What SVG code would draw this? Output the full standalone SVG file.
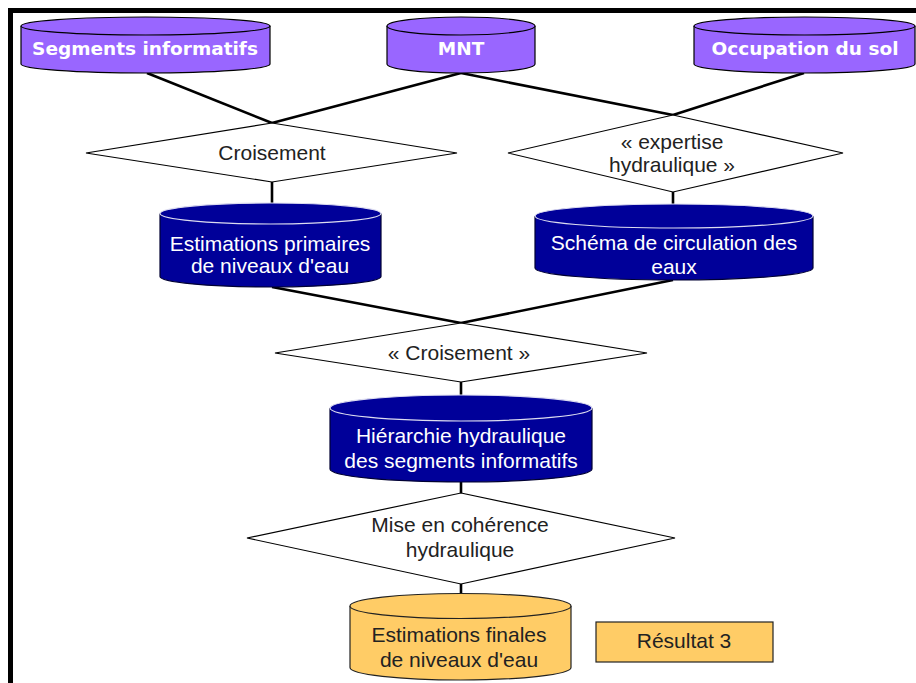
<svg xmlns="http://www.w3.org/2000/svg" width="916" height="683" viewBox="0 0 916 683">
<style>
.bg{fill:#ffffff}
.frame{fill:none;stroke:#000;stroke-width:5}
.conn{fill:none;stroke:#000;stroke-width:2.6;stroke-linecap:butt}
.dia{fill:#fff;stroke:#000;stroke-width:1.2}
.cylP{fill:#9966ff;stroke:#000;stroke-width:1.2}
.cylPtop{fill:#9966ff;stroke:#000;stroke-width:1.2}
.cylB{fill:#000099;stroke:#000033;stroke-width:1.2}
.cylBtop{fill:#000099;stroke:#dcdcf0;stroke-width:1.2}
.cylO{fill:#ffcc66;stroke:#222;stroke-width:1.2}
.cylOtop{fill:#ffcc66;stroke:#222;stroke-width:1.2}
.tb{font-family:"DejaVu Sans",Verdana,sans-serif;font-weight:bold;font-size:18.5px;fill:#fff;text-anchor:middle}
.tw{font-family:"Liberation Sans",Arial,sans-serif;font-size:21px;fill:#fff;text-anchor:middle}
.tk{font-family:"Liberation Sans",Arial,sans-serif;font-size:21px;fill:#222;text-anchor:middle}
</style>
<rect class="bg" x="0" y="0" width="916" height="683"/>
<path class="frame" d="M10.5,683 V10.5 H916"/>

<g id="connectors">
  <line class="conn" x1="147" y1="73" x2="272" y2="123"/>
  <line class="conn" x1="461" y1="73" x2="272" y2="123"/>
  <line class="conn" x1="461" y1="73" x2="673" y2="115"/>
  <line class="conn" x1="804" y1="73" x2="673" y2="115"/>
  <line class="conn" x1="272" y1="182" x2="272" y2="203"/>
  <line class="conn" x1="673" y1="192" x2="673" y2="204"/>
  <line class="conn" x1="272" y1="287" x2="461" y2="323"/>
  <line class="conn" x1="673" y1="280" x2="461" y2="323"/>
  <line class="conn" x1="461" y1="382" x2="461" y2="395"/>
  <line class="conn" x1="461" y1="482" x2="461" y2="493"/>
  <line class="conn" x1="461" y1="584" x2="461" y2="593"/>
</g>

<g id="segments">
  <path class="cylP" d="M21,26 V64 A124.5,9 0 0 0 270,64 V26"/>
  <ellipse class="cylPtop" cx="145.5" cy="26" rx="124.5" ry="9"/>
  <text class="tb" x="145" y="55">Segments informatifs</text>
</g>
<g id="mnt">
  <path class="cylP" d="M387,26 V64 A74,9 0 0 0 535,64 V26"/>
  <ellipse class="cylPtop" cx="461" cy="26" rx="74" ry="9"/>
  <text class="tb" x="461" y="55">MNT</text>
</g>
<g id="occupation">
  <path class="cylP" d="M694,26 V64 A110.5,9 0 0 0 915,64 V26"/>
  <ellipse class="cylPtop" cx="804.5" cy="26" rx="110.5" ry="9"/>
  <text class="tb" x="805" y="55">Occupation du sol</text>
</g>

<g id="croisement1">
  <polygon class="dia" points="272,123 457,153 272,182 86,153"/>
  <text class="tk" x="272" y="160">Croisement</text>
</g>
<g id="expertise">
  <polygon class="dia" points="673,115 843,153 673,192 508,153"/>
  <text class="tk" x="672" y="149">« expertise</text>
  <text class="tk" x="672" y="172">hydraulique »</text>
</g>

<g id="estimations-primaires">
  <path class="cylB" d="M160,213.5 V276.5 A110.5,10.5 0 0 0 381,276.5 V213.5"/>
  <ellipse class="cylBtop" cx="270.5" cy="213.5" rx="110.5" ry="10.5"/>
  <text class="tw" x="270" y="251">Estimations primaires</text>
  <text class="tw" x="270" y="273">de niveaux d'eau</text>
</g>
<g id="schema">
  <path class="cylB" d="M535,216 V268 A139,12 0 0 0 813,268 V216"/>
  <ellipse class="cylBtop" cx="674" cy="216" rx="139" ry="12"/>
  <text class="tw" x="674" y="250">Schéma de circulation des</text>
  <text class="tw" x="674" y="274">eaux</text>
</g>

<g id="croisement2">
  <polygon class="dia" points="461,323 647,353 461,382 275,353"/>
  <text class="tk" x="459" y="360">« Croisement »</text>
</g>

<g id="hierarchie">
  <path class="cylB" d="M330,408 V469 A131,13 0 0 0 592,469 V408"/>
  <ellipse class="cylBtop" cx="461" cy="408" rx="131" ry="13"/>
  <text class="tw" x="461" y="443">Hiérarchie hydraulique</text>
  <text class="tw" x="461" y="468">des segments informatifs</text>
</g>

<g id="coherence">
  <polygon class="dia" points="461,493 675,538 461,584 247,538"/>
  <text class="tk" x="460" y="532">Mise en cohérence</text>
  <text class="tk" x="460" y="557">hydraulique</text>
</g>

<g id="estimations-finales">
  <path class="cylO" d="M350,606 V667.5 A110.5,12.5 0 0 0 571,667.5 V606"/>
  <ellipse class="cylOtop" cx="460.5" cy="606" rx="110.5" ry="12.5"/>
  <text class="tk" x="459" y="642">Estimations finales</text>
  <text class="tk" x="459" y="667">de niveaux d'eau</text>
</g>

<g id="resultat">
  <rect class="cylO" x="596" y="622" width="177" height="40"/>
  <text class="tk" x="684" y="648">Résultat 3</text>
</g>
</svg>
